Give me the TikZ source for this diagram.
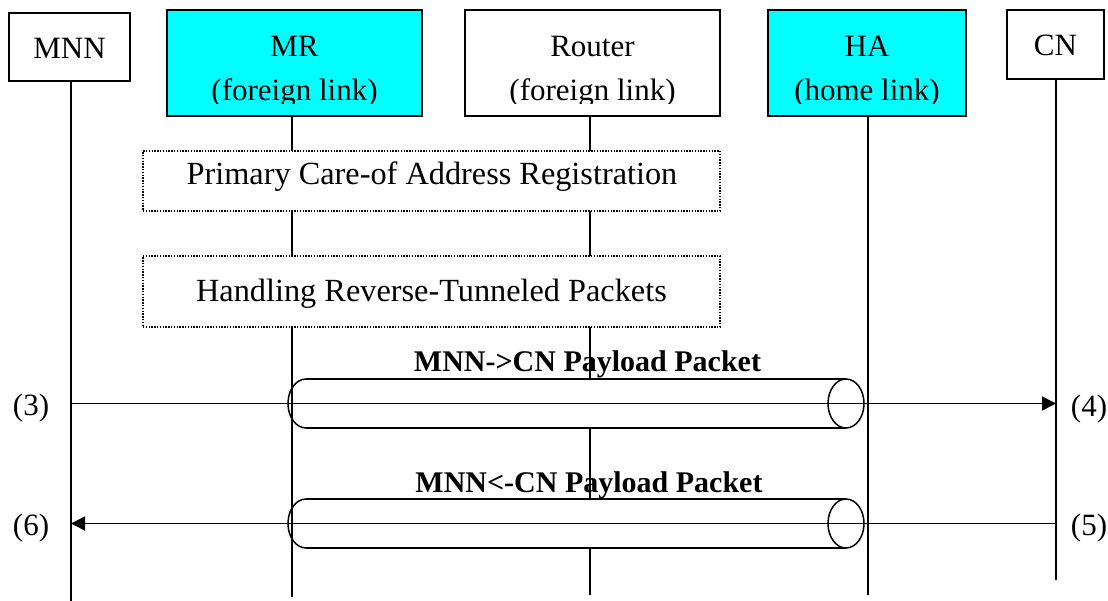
\documentclass[tikz,border=0pt]{standalone}
\usepackage{fontspec}
\setmainfont{Liberation Serif}
\usetikzlibrary{arrows.meta,shapes.geometric}
\definecolor{cyanbox}{RGB}{0,255,255}
\tikzset{
  box/.style={draw=black, line width=1.5pt, inner sep=0pt},
  actor/.style={box, fill=white},
  hl/.style={box, fill=cyanbox},
  life/.style={line width=1.5pt},
  phase/.style={draw=black, fill=white, line width=1.4pt, dash pattern=on 1.4pt off 1.4pt, inner sep=0pt},
  txt/.style={inner sep=0pt, anchor=base, font=\fontsize{31}{36}\selectfont},
  ptxt/.style={inner sep=0pt, anchor=base, font=\fontsize{32.3}{38}\selectfont},
  btxt/.style={inner sep=0pt, anchor=base, font=\fontsize{30}{36}\selectfont\bfseries},
  msg/.style={line width=1.5pt, -{Triangle[length=14pt,width=14pt]}},
  tube/.style={line width=1.5pt},
  face/.style={draw=black, fill=white, line width=1.5pt, ellipse, inner sep=0pt, minimum width=36pt, minimum height=49pt},
}
\begin{document}
\begin{tikzpicture}[x=1pt,y=-1pt]
\useasboundingbox (0,0) rectangle (1108,601);

% actor boxes
\node[actor, minimum width=121pt, minimum height=68pt] (mnn) at (69.5,47) {};
\node[hl, minimum width=255pt, minimum height=106pt] (mr) at (294.5,63) {};
\node[actor, minimum width=255pt, minimum height=106pt] (rt) at (592.5,63) {};
\node[hl, minimum width=198pt, minimum height=106pt] (ha) at (867,63) {};
\node[actor, minimum width=97pt, minimum height=69pt] (cn) at (1055.5,44.5) {};

% lifeline ends
\coordinate (mnnE) at (71,601);
\coordinate (mrE) at (292,597);
\coordinate (rtE) at (590,595);
\coordinate (haE) at (868,595);
\coordinate (cnE) at (1056,580);

\draw[life] (mnn.south -| mnnE) -- (mnnE);
\draw[life] (mr.south -| mrE) -- (mrE);
\draw[life] (rt.south -| rtE) -- (rtE);
\draw[life] (ha.south -| haE) -- (haE);
\draw[life] (cn.south -| cnE) -- (cnE);

% phase boxes
\node[phase, minimum width=577pt, minimum height=60pt] (reg) at (431.5,181) {};
\node[ptxt] (regt) at (432,185) {Primary Care-of Address Registration};
\node[phase, minimum width=577pt, minimum height=71pt] (rev) at (431.5,291.5) {};
\node[ptxt] (revt) at (431.5,302) {Handling Reverse-Tunneled Packets};

% tunnel 1
\fill[white] (306,379) rectangle (846,428);
\draw[tube] (306,379) -- (846,379);
\draw[tube] (306,428) -- (846,428);
\draw[tube] (306,379) arc[start angle=-90, end angle=-270, x radius=18, y radius=24.5];
\node[face] (tf1) at (846,403.5) {};

% tunnel 2
\fill[white] (306,499) rectangle (846,548);
\draw[tube] (306,499) -- (846,499);
\draw[tube] (306,548) -- (846,548);
\draw[tube] (306,499) arc[start angle=-90, end angle=-270, x radius=18, y radius=24.5];
\node[face] (tf2) at (846,523.5) {};

% messages
\coordinate (m1s) at (71,403.5);
\coordinate (m1e) at (1056,403.5);
\coordinate (m2s) at (1056,523.5);
\coordinate (m2e) at (71,523.5);
\draw[msg] (m1s) -- (m1e);
\draw[msg] (m2s) -- (m2e);

\node[btxt] (l1) at (587.5,371) {MNN->CN Payload Packet};
\node[btxt] (l2) at (589,492) {MNN<-CN Payload Packet};

\node[txt] (n3) at (31,415) {(3)};
\node[txt] (n4) at (1089,416) {(4)};
\node[txt] (n5) at (1089,535) {(5)};
\node[txt] (n6) at (31,535) {(6)};

% box texts (clipped like the original frames)
\begin{scope}
\clip (0,0) rectangle (1108,103.5);
\node[txt] (mnnt) at (69.5,59) {MNN};
\node[txt] (mrt) at (294.5,57) {MR};
\node[txt] (mrt2) at (294.5,101) {(foreign link)};
\node[txt] (rtt) at (592.5,57) {Router};
\node[txt] (rtt2) at (592.5,101) {(foreign link)};
\node[txt] (hat) at (867,57) {HA};
\node[txt] (hat2) at (867,101) {(home link)};
\node[txt] (cnt) at (1055.5,56) {CN};
\end{scope}
\end{tikzpicture}
\end{document}
